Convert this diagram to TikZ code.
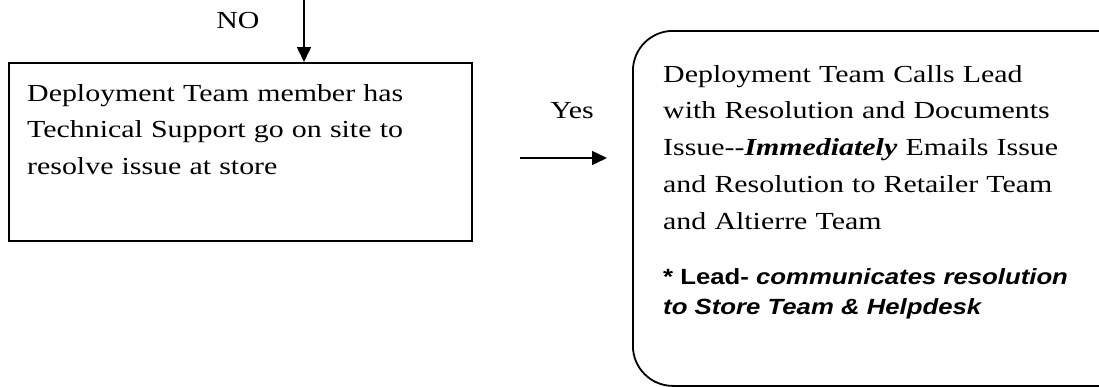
\documentclass[tikz,border=0pt]{standalone}
\usepackage{fontspec}
\setmainfont{Liberation Serif}[FakeStretch=1.22]
\newfontfamily\notefont{Liberation Sans}[FakeStretch=1.17]
\usepackage{tikz}
\usetikzlibrary{arrows.meta}
\usetikzlibrary{positioning}
\usetikzlibrary{calc}

\tikzset{
    stepbox/.style = {draw, line width=1.8pt, minimum width=463pt, minimum height=178pt, inner sep=0pt},
    leadbox/.style = {draw, line width=1.8pt, rounded corners=40pt, minimum width=520pt, minimum height=355pt, inner sep=0pt},
    bodytext/.style = {inner sep=0pt, align=left, font=\fontsize{24.5}{36.7}\selectfont},
    flow/.style = {line width=1.5pt, -{Triangle[length=15pt,width=14pt]}},
}

\begin{document}
\begin{tikzpicture}[x=1pt, y=-1pt]
    \useasboundingbox (0,0) rectangle (1099,386);
    % boxes
    \node[stepbox, anchor=north west] (onsite) at (8,62) {};
    \node[leadbox, anchor=north west] (lead) at (632,30) {};
    % texts
    \node[bodytext, anchor=north west, text width=440pt] (onsitetext) at (27,84)
        {Deployment Team member has\\Technical Support go on site to\\resolve issue at store};
    \node[bodytext, anchor=north west, text width=460pt] (leadtext) at (663,65)
        {Deployment Team Calls Lead\\with Resolution and Documents\\Issue-{}-\textbf{\textit{Immediately}} Emails Issue\\and Resolution to Retailer Team\\and Altierre Team};
    \node[inner sep=0pt, align=left, anchor=north west, font=\notefont\bfseries\fontsize{22}{30}\selectfont] (leadnote) at (663,268)
        {* Lead- \textit{communicates resolution}\\\textit{to Store Team \& Helpdesk}};
    \node[bodytext, anchor=base] (no) at (238,28) {NO};
    \node[bodytext, anchor=base] (yes) at (572,118) {Yes};
    % connectors
    \coordinate (fromabove) at (304,0);
    \coordinate (yesstart) at (520,158);
    \coordinate (yesend) at (607,158);
    \draw[flow] (fromabove) -- (onsite.north -| fromabove);
    \draw[flow] (yesstart) -- (yesend);
\end{tikzpicture}
\end{document}
